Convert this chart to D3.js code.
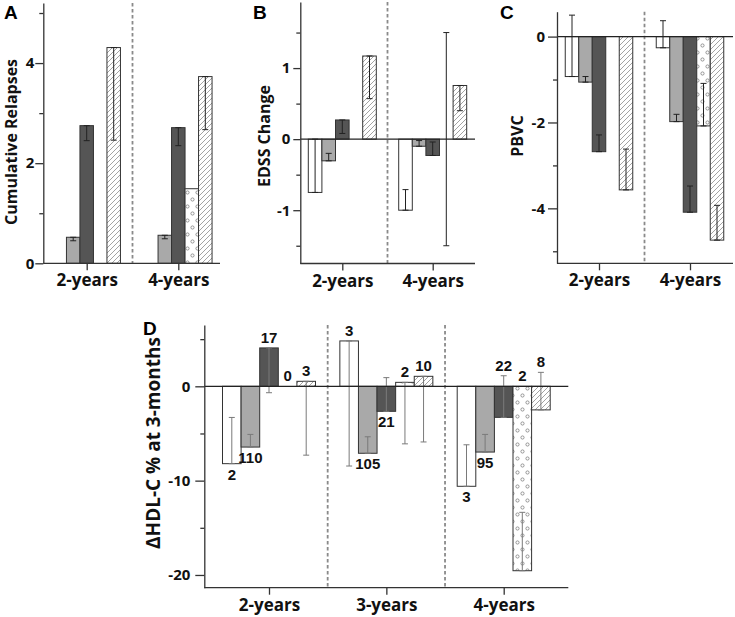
<!DOCTYPE html>
<html>
<head>
<meta charset="utf-8">
<script src="https://cdn.jsdelivr.net/npm/d3@7"></script>
<style>
  body { margin: 0; background: #fff; }
  svg { display: block; }
</style>
</head>
<body>
<svg id="chart" width="735" height="617"></svg>
<script>
// series order inside every group: open, light grey, dark grey, dotted, hatched
const seriesKeys = ["open", "light", "dark", "dotted", "hatched"];

// A - cumulative relapses
const relapseCats = ["2-years", "4-years"];
const relapseVals = [[null, 0.52, 2.75, null, 4.31], [null, 0.56, 2.71, 1.49, 3.73]];
const relapseErr = [
  [null, [0.45, 0.52], [2.45, 2.75], null, [2.46, 4.31]],
  [null, [0.49, 0.56], [2.35, 2.71], null, [2.67, 3.73]]
];

// B - EDSS change
const edssCats = ["2-years", "4-years"];
const edssVals = [[-0.75, -0.305, 0.27, null, 1.17], [-1.0, -0.1, -0.23, 0, 0.755]];
const edssErr = [
  [[-0.75, 0], [-0.305, -0.2], [0.08, 0.27], null, [0.57, 1.17]],
  [[-1.0, -0.71], [-0.1, -0.02], [-0.23, -0.04], [-1.5, 1.5], [0.4, 0.755]]
];

// C - PBVC
const pbvcCats = ["2-years", "4-years"];
const pbvcVals = [[-0.93, -1.06, -2.68, null, -3.57], [-0.26, -1.98, -4.09, -2.08, -4.74]];
const pbvcErr = [
  [[-0.93, 0.5], [-1.06, -0.93], [-2.68, -2.29], null, [-3.57, -2.62]],
  [[-0.26, 0.37], [-1.98, -1.81], [-4.09, -3.48], [-2.08, -1.09], [-4.74, -3.93]]
];

// D - HDL-C change at 3 months, with n per bar
const hdlCats = ["2-years", "3-years", "4-years"];
const hdlVals = [[-8.2, -6.44, 4.07, null, 0.53], [4.81, -7.1, -2.65, 0.42, 1.06], [-10.6, -6.97, -3.29, -19.55, -2.5]];
const hdlErr = [
  [[-8.2, -3.3], [-6.44, -5.1], [-0.68, 4.07], null, [-7.3, 0.53]],
  [[-8.45, 4.81], [-7.1, -5.35], [-2.65, 0.92], [-6.1, 0.42], [-5.9, 1.06]],
  [[-10.6, -6.2], [-6.97, -5.1], [-3.29, 1.12], [-19.55, -13.36], [-2.5, 1.48]]
];
const hdlN = [["2", "110", "17", "0", "3"], ["3", "105", "21", "2", "10"], ["3", "95", "22", "2", "8"]];
const hdlNSide = [["below", "below", "above", "above", "above"], ["above", "below", "below", "above", "above"], ["below", "below", "above", "above", "above"]];

const svg = d3.select("#chart");
const defs = svg.append("defs");

const hatch = defs.append("pattern")
  .attr("id", "hatch").attr("patternUnits", "userSpaceOnUse")
  .attr("width", 5).attr("height", 5);
hatch.append("rect").attr("width", 5).attr("height", 5).attr("fill", "#fff");
hatch.append("path")
  .attr("d", "M-1,1L1,-1M0,5L5,0M4,6L6,4")
  .attr("stroke", "#8c8c8c").attr("stroke-width", 0.8);

const dots = defs.append("pattern")
  .attr("id", "dots").attr("patternUnits", "userSpaceOnUse")
  .attr("width", 10).attr("height", 14);
dots.append("rect").attr("width", 10).attr("height", 14).attr("fill", "#fff");
dots.selectAll("circle")
  .data([[2.5, 3.5], [7.5, 10.5]])
  .join("circle")
  .attr("cx", d => d[0]).attr("cy", d => d[1]).attr("r", 1.6)
  .attr("fill", "none").attr("stroke", "#777").attr("stroke-width", 0.75);

const fills = { open: "#fff", light: "#a9a9a9", dark: "#555", dotted: "url(#dots)", hatched: "url(#hatch)" };

const panels = [
  { letter: "A", lx: 4, ly: 18.5, title: "Cumulative Relapses", tx: 17.3, ty: 142, ts: 16,
    cats: relapseCats, vals: relapseVals, err: relapseErr,
    domain: [0, 5.2], top: 3, bottom: 263.3, left: 43.3, right: 220, centers: [86.7, 178.3], bw: 13.5,
    major: [0, 2, 4], minor: [1, 3, 5], tick: 8, pad: 1, zero: false, errColor: "#222" },
  { letter: "B", lx: 253, ly: 18.5, title: "EDSS Change", tx: 270, ty: 136, ts: 16,
    cats: edssCats, vals: edssVals, err: edssErr,
    domain: [-1.75, 1.93], top: 2, bottom: 263.5, left: 300.3, right: 475, centers: [342.3, 432.7], bw: 13.6,
    major: [-1, 0, 1], minor: [-1.5, -0.5, 0.5, 1.5], tick: 7, pad: 3, zero: true, errColor: "#222" },
  { letter: "C", lx: 500, ly: 18.5, title: "PBVC", tx: 523, ty: 136, ts: 16,
    cats: pbvcCats, vals: pbvcVals, err: pbvcErr,
    domain: [-5.28, 0.58], top: 11.7, bottom: 263.3, left: 557, right: 733, centers: [599, 690], bw: 13.5,
    major: [-4, -2, 0], minor: [-5, -3, -1], tick: 9, pad: 3, zero: true, errColor: "#222" },
  { letter: "D", lx: 143, ly: 335, title: "\u0394HDL-C % at 3-months", tx: 160, ty: 443, ts: 19,
    cats: hdlCats, vals: hdlVals, err: hdlErr, counts: hdlN, sides: hdlNSide,
    domain: [-21.35, 6.5], top: 325, bottom: 587.7, left: 204.3, right: 568.3, centers: [269, 503.7], bw: 18.6,
    major: [-20, -10, 0], minor: [-15, -5, 5], tick: 9, pad: 5, zero: true, errColor: "#7a7a7a" }
];

const FONT = "'Open Sans', sans-serif";

panels.forEach(p => {
  const g = svg.append("g");
  const y = d3.scaleLinear().domain(p.domain).range([p.bottom, p.top]);
  const x = d3.scalePoint().domain(p.cats).range(p.centers);
  const sub = d3.scaleBand().domain(d3.range(seriesKeys.length)).range([-2.5 * p.bw, 2.5 * p.bw]);

  // dashed separators between groups
  const mids = d3.pairs(p.cats).map(([a, b]) => (x(a) + x(b)) / 2);
  g.selectAll(".sep").data(mids).join("line")
    .attr("x1", d => d).attr("x2", d => d)
    .attr("y1", p.top).attr("y2", p.bottom)
    .attr("stroke", "#8a8a8a").attr("stroke-width", 1.8).attr("stroke-dasharray", "3.5,2.5");

  // flatten
  const bars = [];
  p.cats.forEach((c, i) => seriesKeys.forEach((k, j) => {
    bars.push({ c, i, j, k, v: p.vals[i][j], e: p.err[i][j],
      n: p.counts ? p.counts[i][j] : null, side: p.sides ? p.sides[i][j] : null });
  }));

  const cx = d => x(d.c) + sub(d.j) + sub.bandwidth() / 2;

  g.selectAll(".bar").data(bars.filter(d => d.v !== null && d.v !== 0)).join("rect")
    .attr("x", d => x(d.c) + sub(d.j))
    .attr("width", sub.bandwidth())
    .attr("y", d => y(Math.max(d.v, 0)))
    .attr("height", d => Math.abs(y(d.v) - y(0)))
    .attr("fill", d => fills[d.k])
    .attr("stroke", "#333").attr("stroke-width", 1);

  const eb = g.selectAll(".err").data(bars.filter(d => d.e)).join("g")
    .attr("stroke", p.errColor).attr("stroke-width", 1);
  eb.append("line")
    .attr("x1", cx).attr("x2", cx)
    .attr("y1", d => y(d.e[0])).attr("y2", d => y(d.e[1]));
  eb.append("line")
    .attr("x1", d => cx(d) - 3).attr("x2", d => cx(d) + 3)
    .attr("y1", d => y(d.e[0])).attr("y2", d => y(d.e[0]));
  eb.append("line")
    .attr("x1", d => cx(d) - 3).attr("x2", d => cx(d) + 3)
    .attr("y1", d => y(d.e[1])).attr("y2", d => y(d.e[1]));

  if (p.zero) {
    g.append("line")
      .attr("x1", p.left).attr("x2", p.right)
      .attr("y1", y(0)).attr("y2", y(0))
      .attr("stroke", "#222").attr("stroke-width", 1.3);
  }

  // n labels
  if (p.counts) {
    g.selectAll(".n").data(bars).join("text")
      .attr("x", cx)
      .attr("y", d => {
        const hi = Math.max(d.v ?? 0, d.e ? d.e[1] : 0, 0);
        const lo = Math.min(d.v ?? 0, d.e ? d.e[0] : 0);
        return d.side === "above" ? y(hi) - 5 : y(lo) + 16;
      })
      .attr("text-anchor", "middle")
      .attr("font-family", "'Liberation Sans Narrow', 'Liberation Sans', sans-serif")
      .attr("font-weight", "bold").attr("font-size", 15).attr("fill", "#111")
      .text(d => d.n);
  }

  // y axis
  const ya = g.append("g").attr("transform", `translate(${p.left},0)`);
  ya.call(d3.axisLeft(y).tickValues(p.minor).tickSize(4).tickSizeOuter(0).tickFormat(""));
  ya.append("g").call(d3.axisLeft(y).tickValues(p.major).tickSize(p.tick).tickSizeOuter(0)
    .tickPadding(p.pad).tickFormat(d => String(d)))
    .call(s => s.select(".domain").remove());
  ya.selectAll("path, line").attr("stroke", "#333").attr("stroke-width", 1.3);
  ya.selectAll("text").attr("font-family", FONT).attr("font-weight", "bold")
    .attr("font-size", 15).attr("fill", "#111");

  // x axis
  const xa = g.append("g").attr("transform", `translate(0,${p.bottom})`);
  xa.call(d3.axisBottom(x).tickSize(7).tickPadding(4))
    .call(s => s.select(".domain").remove());
  xa.append("line").attr("x1", p.left).attr("x2", p.right);
  xa.selectAll("line").attr("stroke", "#333").attr("stroke-width", 1.3);
  xa.selectAll("text").attr("font-family", FONT).attr("font-weight", "bold")
    .attr("font-size", 17).attr("fill", "#111");

  // titles
  g.append("text")
    .attr("transform", `translate(${p.tx},${p.ty}) rotate(-90)`)
    .attr("text-anchor", "middle")
    .attr("font-family", FONT).attr("font-weight", "bold").attr("font-size", p.ts).attr("fill", "#111")
    .text(p.title);
  g.append("text")
    .attr("x", p.lx).attr("y", p.ly)
    .attr("font-family", "'Liberation Sans', Arial, sans-serif").attr("font-weight", "bold")
    .attr("font-size", 19).attr("fill", "#000")
    .text(p.letter);
});
</script>
</body>
</html>
